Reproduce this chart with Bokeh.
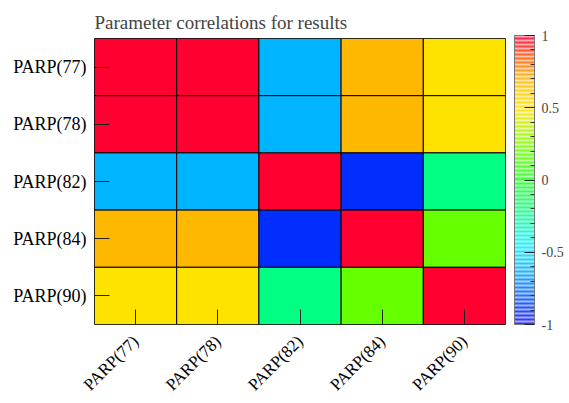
import numpy as np
from bokeh.plotting import figure
from bokeh.models import (FactorRange, LinearColorMapper, ColorBar, FixedTicker,
                          ColumnDataSource)
from bokeh.transform import transform
from bokeh.embed import file_html
from bokeh.resources import INLINE

# ---- data ----
params = ["PARP(77)", "PARP(78)", "PARP(82)", "PARP(84)", "PARP(90)"]
corr_77 = [1.00, 1.00, -0.60, 0.70, 0.50]
corr_78 = [1.00, 1.00, -0.60, 0.70, 0.50]
corr_82 = [-0.60, -0.60, 1.00, -0.90, -0.22]
corr_84 = [0.70, 0.70, -0.90, 1.00, 0.20]
corr_90 = [0.50, 0.50, -0.22, 0.20, 1.00]
cbar_ticks = [-1, -0.5, 0, 0.5, 1]
cbar_tick_labels = {-1: "-1", -0.5: "-0.5", 0: "0", 0.5: "0.5", 1: "1"}
cbar_minor = [-0.9, -0.8, -0.7, -0.6, -0.4, -0.3, -0.2, -0.1,
              0.1, 0.2, 0.3, 0.4, 0.6, 0.7, 0.8, 0.9]
title_text = "Parameter correlations for results"

# ---- colour scale (style) ----
anchors = [(-1.0, (0x10, 0x10, 0xFF)), (-0.9, (0x00, 0x30, 0xFF)),
           (-0.6, (0x00, 0xB4, 0xFF)), (-0.45, (0x00, 0xF0, 0xFF)),
           (-0.22, (0x00, 0xFF, 0x80)), (0.0, (0x20, 0xFF, 0x20)),
           (0.2, (0x66, 0xFF, 0x00)), (0.5, (0xFF, 0xE4, 0x00)),
           (0.7, (0xFF, 0xB9, 0x00)), (0.85, (0xFF, 0x60, 0x00)),
           (1.0, (0xFF, 0x00, 0x30))]
av = np.array([a[0] for a in anchors])
ac = np.array([a[1] for a in anchors], dtype=float)


def col_at(v, white=0.0):
    rgb = [np.interp(v, av, ac[:, k]) for k in range(3)]
    rgb = [c * (1 - white) + 255 * white for c in rgb]
    return "#%02x%02x%02x" % tuple(int(round(c)) for c in rgb)


palette = [col_at(v) for v in np.linspace(-1, 1, 256)]
stripes = []
for v in np.linspace(-1, 1, 72):
    stripes.append(col_at(v, 0.15))
    stripes.append(col_at(v, 0.65))

mapper = LinearColorMapper(palette=palette, low=-1, high=1)
bar_mapper = LinearColorMapper(palette=stripes, low=-1, high=1)

rows = [corr_77, corr_78, corr_82, corr_84, corr_90]
xs, ys, vals = [], [], []
for yi, row in enumerate(rows):
    for xi, v in enumerate(row):
        xs.append(params[xi])
        ys.append(params[yi])
        vals.append(v)
src = ColumnDataSource(dict(x=xs, y=ys, v=vals))

FONT = "Liberation Serif"

p = figure(width=565, height=403, output_backend="svg", toolbar_location=None,
           x_range=FactorRange(factors=params, range_padding=0),
           y_range=FactorRange(factors=list(reversed(params)), range_padding=0),
           min_border_left=94, min_border_right=60, min_border_top=38,
           min_border_bottom=76)

p.rect(x="x", y="y", width=1, height=1, source=src,
       fill_color=transform("v", mapper), line_color="black", line_width=1)

p.title.text = title_text
p.title.text_font = FONT
p.title.text_font_size = "19px"
p.title.text_font_style = "normal"
p.title.align = "left"
p.title.offset = 0
p.title.standoff = 12

p.grid.visible = False
p.outline_line_color = "#333333"
p.outline_line_width = 1

for ax in (p.xaxis[0], p.yaxis[0]):
    ax.axis_line_color = None
    ax.major_tick_in = 15
    ax.major_tick_out = 0
    ax.major_tick_line_color = "#222222"
    ax.major_label_text_font = FONT
    ax.major_label_text_color = "black"

p.yaxis.major_label_text_font_size = "18px"
p.yaxis.major_label_standoff = 8
p.xaxis.major_label_text_font_size = "17px"
p.xaxis.major_label_orientation = np.pi / 4
p.xaxis.major_label_standoff = 14

cb = ColorBar(color_mapper=bar_mapper, width=20, height=289,
              location=(420, 0),
              ticker=FixedTicker(ticks=cbar_ticks, minor_ticks=cbar_minor),
              major_label_overrides=cbar_tick_labels,
              major_tick_in=10, major_tick_out=0, minor_tick_in=4, minor_tick_out=0,
              major_tick_line_color="#222222", minor_tick_line_color="#333333",
              bar_line_color="#777777", bar_line_width=1,
              border_line_color=None, background_fill_alpha=0,
              label_standoff=7, padding=0, margin=0,
              major_label_text_font=FONT, major_label_text_font_size="14px")
p.add_layout(cb, "center")

open("out.html", "w").write(file_html(p, INLINE))
